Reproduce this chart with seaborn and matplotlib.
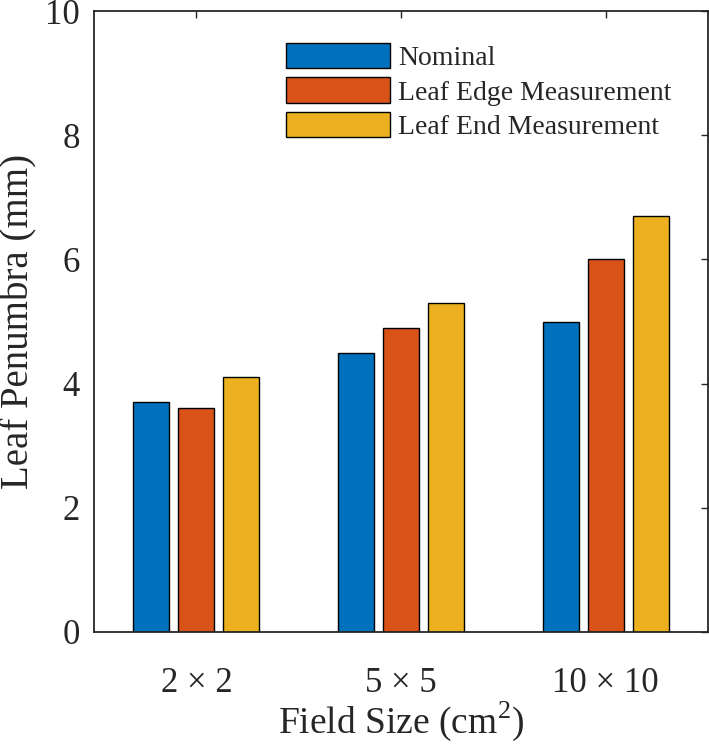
import pandas as pd
import matplotlib
matplotlib.use("Agg")
import matplotlib.pyplot as plt
import seaborn as sns

# data
field_sizes = ["2 \u00d7 2", "5 \u00d7 5", "10 \u00d7 10"]
nominal = [3.7, 4.5, 5.0]
leaf_edge = [3.6, 4.9, 6.0]
leaf_end = [4.1, 5.3, 6.7]
series_names = ["Nominal", "Leaf Edge Measurement", "Leaf End Measurement"]
colors = ["#0072BD", "#D95319", "#EDB120"]

rows = []
for name, vals in zip(series_names, [nominal, leaf_edge, leaf_end]):
    for fs, v in zip(field_sizes, vals):
        rows.append({"Field Size": fs, "Series": name, "Penumbra": v})
df = pd.DataFrame(rows)

sns.set_style("white")
plt.rcParams["font.family"] = ["Liberation Serif", "DejaVu Serif"]
plt.rcParams["mathtext.fontset"] = "custom"
plt.rcParams["mathtext.rm"] = "Liberation Serif"

fig = plt.figure(figsize=(7.09, 7.44), dpi=100)
ax = fig.add_axes([94 / 709, 112 / 744, 614 / 709, 621 / 744])

sns.barplot(data=df, x="Field Size", y="Penumbra", hue="Series",
            order=field_sizes, hue_order=series_names, palette=colors,
            saturation=1, width=0.66, gap=0.2, edgecolor="black",
            linewidth=1.0, errorbar=None, ax=ax)

ax.set_xlim(-0.5, 2.5)
ax.set_ylim(0, 10)
ax.set_yticks([0, 2, 4, 6, 8, 10])

spine_col = "#262626"
for s in ax.spines.values():
    s.set_visible(True)
    s.set_color(spine_col)
    s.set_linewidth(1.3)

ax.tick_params(direction="in", length=5, width=1, color=spine_col,
               top=True, right=True, labelsize=25, labelcolor="#262626")
ax.tick_params(axis="x", pad=25)
ax.tick_params(axis="y", pad=10)

ax.set_xlabel(r"Field Size (cm$^{2}$)", fontsize=27, color="#262626")
ax.set_ylabel("Leaf Penumbra (mm)", fontsize=28, color="#262626")
ax.xaxis.set_label_coords(0.5, -0.109)
ax.yaxis.set_label_coords(-0.092, 0.5)

handles, labels = ax.get_legend_handles_labels()
ax.legend(handles, labels, loc="upper left", bbox_to_anchor=(0.3127, 0.949),
          frameon=False, fontsize=20, borderpad=0, borderaxespad=0,
          handlelength=3.75, handleheight=1.05, handletextpad=0.3,
          labelspacing=0.22)

fig.savefig("out.png", dpi=100)
